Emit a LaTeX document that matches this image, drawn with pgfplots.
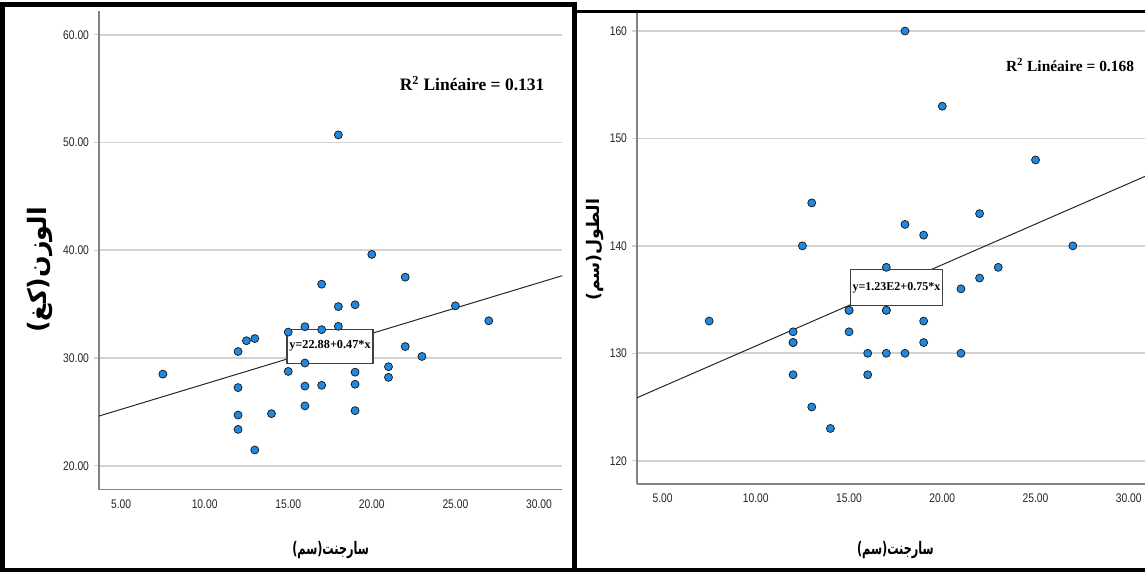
\documentclass[border=0pt]{standalone}
\usepackage{pgfplots}
\pgfplotsset{compat=1.18}
\usepackage{pgfplotstable}
\usepackage{fontspec}
\setmainfont{Liberation Serif}
\newfontfamily\narrow[FakeStretch=0.82]{Liberation Sans}
\newfontfamily\arabicfont[Script=Arabic]{DejaVu Sans}
\newfontfamily\arabicnarrow[Script=Arabic,FakeStretch=0.65]{DejaVu Sans}
\TeXXeTstate=1
\definecolor{ptc}{RGB}{30,136,226}
\definecolor{gridc}{RGB}{210,210,210}
\definecolor{axc}{RGB}{130,130,130}

\pgfplotstableread{
x y
7.5 28.5
12 30.6
12.5 31.6
13 31.8
12 27.25
12 24.7
12 23.37
13 21.46
14 24.83
15 32.4
15 28.75
16 32.9
16 29.53
16 27.39
16 25.55
17 36.85
17 32.63
17 27.46
18 50.71
18 34.77
18 32.94
19 34.94
19 28.68
19 27.56
19 25.11
20 39.61
21 29.19
21 28.2
22 37.5
22 31.06
23 30.14
25 34.84
27 33.45
}\weightdata

\pgfplotstableread{
x y
7.5 133
12 132
12 131
12 131
12 128
12.5 140
13 144
13 125
14 123
15 134
15 134
15 132
16 130
16 128
17 138
17 134
17 134
17 130
18 160
18 142
18 130
19 141
19 133
19 131
20 153
21 136
21 130
22 143
22 137
23 138
25 148
27 140
}\heightdata

\begin{document}
\begin{tikzpicture}
\pgfplotsset{
  spss/.style={
    scale only axis,
    axis x line=bottom, axis y line=left,
    axis line style={-,draw=axc,line width=0.8pt},
    ymajorgrids,
    major grid style={draw=gridc,line width=1.4pt},
    xtick={5,10,15,20,25,30},
    x tick style={draw=none},
    y tick style={draw=gridc,line width=1pt},
    major tick length=4pt,
    tick align=outside,
    ticklabel style={font=\narrow\fontsize{9.4}{10}\selectfont, text=black!85},
    /pgf/number format/assume math mode=true,
    xticklabel style={/pgf/number format/.cd,fixed,fixed zerofill,precision=2},
  },
  pts/.style={only marks, mark=*, mark size=3pt,
    mark options={draw=black!90, fill=ptc, line width=0.55pt}},
}
% ---------- left panel ----------
\begin{axis}[spss,
  at={(74.25pt,64.875pt)}, anchor=south west,
  width=347.25pt, height=358.9pt,
  xmin=3.68, xmax=31.38, ymin=17.79, ymax=62.21,
  ytick={20,30,40,50,60},
  yticklabel style={/pgf/number format/.cd,fixed,fixed zerofill,precision=2},
]
\addplot[black!85, line width=0.75pt] coordinates {(3.68,24.61) (31.38,37.63)};
\addplot[pts] table[x=x,y=y] {\weightdata};
\node[draw=black!75, fill=white, line width=0.8pt, inner sep=0pt,
      minimum width=64.5pt, minimum height=25.5pt,
      font=\bfseries\fontsize{9.2}{10}\selectfont] at (axis cs:17.5,31.1) {y=22.88+0.47*x};
\node[font=\bfseries\fontsize{13.1}{15}\selectfont] at (axis cs:26.0,55.5) {R\textsuperscript{2} Linéaire = 0.131};
\end{axis}
% ---------- right panel ----------
\begin{axis}[spss,
  at={(477.75pt,69pt)}, anchor=south west,
  width=381pt, height=353.25pt,
  xmin=3.63, xmax=30.87, ymin=117.83, ymax=161.68,
  ytick={120,130,140,150,160},
  yticklabel style={/pgf/number format/.cd,fixed,precision=0},
]
\addplot[black!85, line width=0.75pt] coordinates {(3.63,125.86) (30.87,146.47)};
\addplot[pts] table[x=x,y=y] {\heightdata};
\node[draw=black!75, fill=white, line width=0.8pt, inner sep=0pt,
      minimum width=69pt, minimum height=27pt,
      font=\bfseries\fontsize{9}{10}\selectfont] at (axis cs:17.54,136.14) {y=1.23E2+0.75*x};
\node[font=\bfseries\fontsize{11.6}{14}\selectfont] at (axis cs:26.85,156.8) {R\textsuperscript{2} Linéaire = 0.168};
\end{axis}
\begin{scope}[x=0.75pt,y=0.75pt]
% ---------- axis titles ----------
\node[font=\arabicnarrow\bfseries\fontsize{13}{15}\selectfont] at (330.6,26) {\beginR سارجنت(سم)\endR};
\node[font=\arabicnarrow\bfseries\fontsize{13}{15}\selectfont] at (895.4,26) {\beginR سارجنت(سم)\endR};
\node[rotate=90, font=\arabicfont\bfseries\fontsize{19}{21}\selectfont] at (40.4,306) {\beginR الوزن(كغ)\endR};
\node[rotate=90, font=\arabicfont\bfseries\fontsize{13}{15}\selectfont] at (595.2,326.2) {\beginR الطول(سم)\endR};
% ---------- frames ----------
\draw[line width=3.6pt] (2.5,571.5) rectangle (574.2,6);
\draw[line width=2.6pt] (574.2,564.3) -- (1145,564.3);
\draw[line width=3pt] (574.2,6) -- (1145,6);
\end{scope}
\pgfresetboundingbox
\useasboundingbox (0,0) rectangle (858.75pt,432pt);
\end{tikzpicture}
\end{document}
